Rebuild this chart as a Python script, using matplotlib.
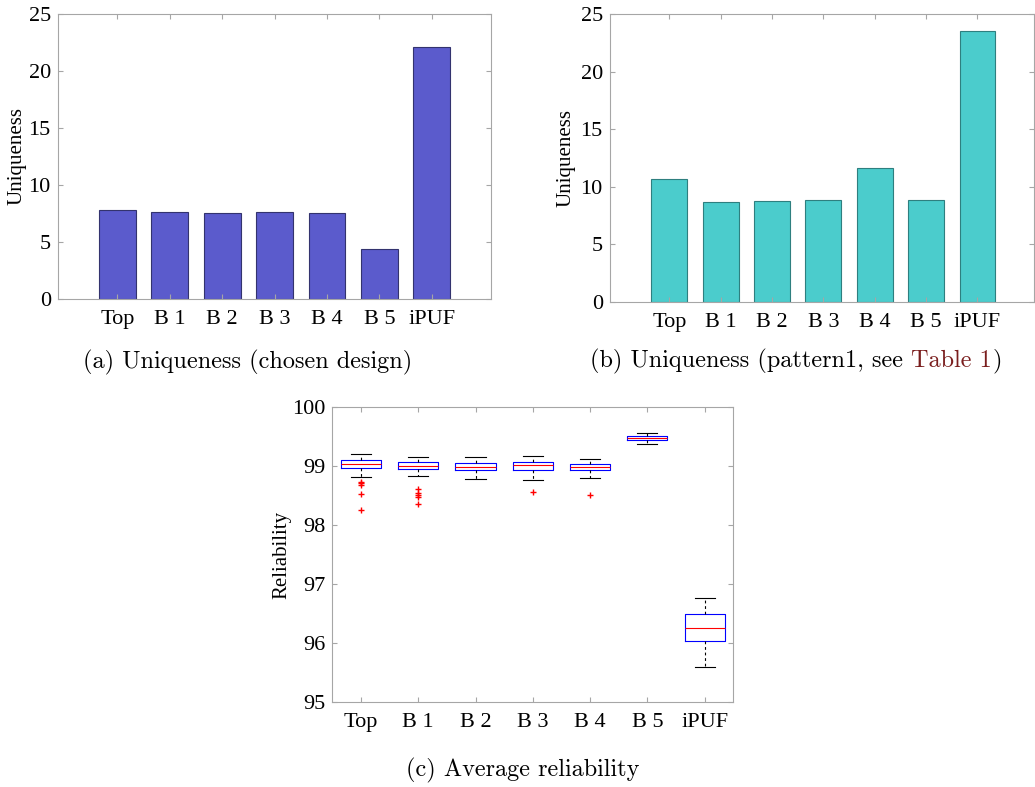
import matplotlib
matplotlib.use('Agg')
import matplotlib.pyplot as plt

# 数据
labels = ['Top', 'B 1', 'B 2', 'B 3', 'B 4', 'B 5', 'iPUF']
uniq_chosen = [7.76, 7.58, 7.52, 7.58, 7.49, 4.33, 22.1]
uniq_pattern1 = [10.64, 8.66, 8.72, 8.81, 11.59, 8.81, 23.5]

# 可靠性箱线图统计值 (下须, Q1, 中位数, Q3, 上须)
rel_whislo = [98.82, 98.84, 98.79, 98.77, 98.80, 99.37, 95.59]
rel_q1 = [98.97, 98.95, 98.93, 98.93, 98.93, 99.45, 96.04]
rel_med = [99.03, 99.01, 98.99, 99.02, 98.99, 99.48, 96.26]
rel_q3 = [99.10, 99.07, 99.05, 99.07, 99.03, 99.52, 96.49]
rel_whishi = [99.20, 99.15, 99.15, 99.18, 99.13, 99.57, 96.77]
rel_fliers = [[98.73, 98.71, 98.68, 98.53, 98.25],
              [98.61, 98.54, 98.51, 98.48, 98.36],
              [],
              [98.57],
              [98.52],
              [],
              []]

W, H = 1035, 787
fig = plt.figure(figsize=(W / 100, H / 100), dpi=100)

tick_font = 'Liberation Serif'
cap_font = 'cmr10'
spine_c = '#a6a6a6'
TS = 16     # 刻度字号
CS = 17.5   # 子图标题字号


def make_ax(l, r, t, b):
    ax = fig.add_axes([l / W, 1 - b / H, (r - l) / W, (b - t) / H])
    for s in ax.spines.values():
        s.set_color(spine_c)
        s.set_linewidth(0.8)
    ax.tick_params(direction='in', length=3.5, width=0.8, color=spine_c,
                   top=True, right=True, labelsize=TS)
    ax.tick_params(axis='x', pad=8)
    ax.tick_params(axis='y', pad=5)
    return ax


def style_ticks(ax):
    for lab in ax.get_xticklabels() + ax.get_yticklabels():
        lab.set_fontfamily(tick_font)
        lab.set_fontsize(TS)


def set_ylab(ax, text, xpos):
    ax.set_ylabel(text, fontfamily=tick_font, fontsize=15)
    ax.yaxis.set_label_coords(xpos, 0.5)
    ax.yaxis.label.set_verticalalignment('center')


x = list(range(1, 8))

# (a) 唯一性 (chosen design)
ax1 = make_ax(57.7, 491, 14.3, 298.5)
ax1.bar(x, uniq_chosen, width=0.7, color='#5b5bcc', edgecolor='#33336e', linewidth=0.8)
ax1.set_xlim(-0.14, 8.13)
ax1.set_ylim(0, 25)
ax1.set_xticks(x)
ax1.set_xticklabels(labels)
ax1.set_yticks([0, 5, 10, 15, 20, 25])
style_ticks(ax1)
set_ylab(ax1, 'Uniqueness', (17 - 57.7) / 433.3)

# (b) 唯一性 (pattern1)
ax2 = make_ax(609.7, 1034, 14, 301.7)
ax2.bar(x, uniq_pattern1, width=0.7, color='#4bcccc', edgecolor='#2e7f7f', linewidth=0.8)
ax2.set_xlim(-0.16, 8.1)
ax2.set_ylim(0, 25)
ax2.set_xticks(x)
ax2.set_xticklabels(labels)
ax2.set_yticks([0, 5, 10, 15, 20, 25])
style_ticks(ax2)
set_ylab(ax2, 'Uniqueness', (566 - 609.7) / 424.3)

# (c) 平均可靠性
ax3 = make_ax(332.3, 733.3, 407.3, 702)
stats = []
for i in range(7):
    stats.append({'whislo': rel_whislo[i], 'q1': rel_q1[i], 'med': rel_med[i],
                  'q3': rel_q3[i], 'whishi': rel_whishi[i], 'fliers': rel_fliers[i]})
ax3.bxp(stats, positions=x, widths=0.7, capwidths=0.35, showfliers=True,
        boxprops=dict(color='#0000ff', linewidth=0.8),
        medianprops=dict(color='#ff0000', linewidth=0.8),
        whiskerprops=dict(color='black', linewidth=0.8, linestyle=(0, (2.5, 2.5))),
        capprops=dict(color='black', linewidth=0.8),
        flierprops=dict(marker='+', markeredgecolor='#ff0000', markersize=4,
                        markeredgewidth=1.0, linestyle='none'))
ax3.set_xlim(0.5, 7.5)
ax3.set_ylim(95, 100)
ax3.set_xticks(x)
ax3.set_xticklabels(labels)
ax3.set_yticks([95, 96, 97, 98, 99, 100])
style_ticks(ax3)
set_ylab(ax3, 'Reliability', (282 - 332.3) / 401)

# 子图标题
fig.text(248 / W, 1 - 362 / H, '(a) Uniqueness (chosen design)', fontfamily=cap_font,
         fontsize=CS, ha='center', va='center')
fig.text(522.5 / W, 1 - 770 / H, '(c) Average reliability', fontfamily=cap_font,
         fontsize=CS, ha='center', va='center')

# (b) 的标题分三段, 中间 "Table 1" 用深红色
parts = [('(b) Uniqueness (pattern1, see ', 'black'), ('Table 1', '#7a1e1e'), (')', 'black')]
fig.canvas.draw()
r = fig.canvas.get_renderer()
texts = []
total = 0
for s, c in parts:
    t = fig.text(0, 1 - 361 / H, s, fontfamily=cap_font, fontsize=CS, color=c,
                 ha='left', va='center')
    w = t.get_window_extent(r).width
    texts.append((t, w))
    total += w
x0 = 796 - total / 2
for t, w in texts:
    t.set_x(x0 / W)
    x0 += w

fig.savefig('out.png', dpi=100)
